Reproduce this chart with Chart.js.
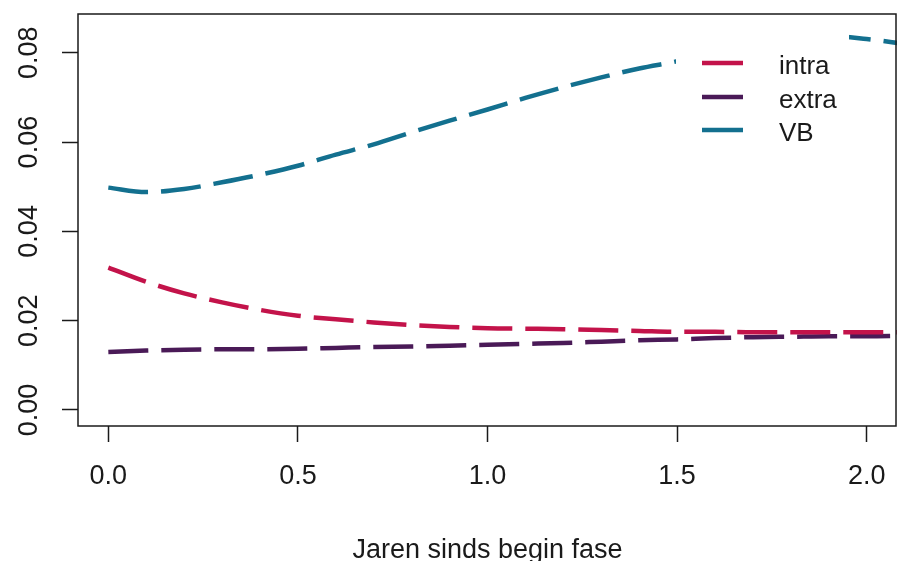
<!DOCTYPE html>
<html>
<head>
<meta charset="utf-8">
<script src="https://cdn.jsdelivr.net/npm/chart.js@4.4.1/dist/chart.umd.min.js"></script>
<style>
  body { margin: 0; background: #fff; }
  #wrap { width: 897px; height: 561px; position: relative; }
</style>
</head>
<body>
<div id="wrap"><canvas id="chartFase"></canvas></div>
<script>
// Data
const jaren = [0, 0.1, 0.2, 0.3, 0.4, 0.5, 0.6, 0.7, 0.8, 0.9, 1.0, 1.1, 1.2, 1.3, 1.4, 1.5, 1.6, 1.7, 1.8, 1.9, 2.0, 2.1];
const intra = [0.0319, 0.0287, 0.0261, 0.0241, 0.0224, 0.0211, 0.0203, 0.0196, 0.0190, 0.0186, 0.0183, 0.0182, 0.0181, 0.0179, 0.0177, 0.0175, 0.0175, 0.0174, 0.0174, 0.0174, 0.0174, 0.0174];
const extra = [0.0130, 0.0133, 0.0135, 0.0136, 0.0136, 0.0137, 0.0139, 0.0141, 0.0142, 0.0144, 0.0146, 0.0148, 0.0150, 0.0153, 0.0156, 0.0158, 0.0161, 0.0163, 0.0164, 0.0165, 0.0165, 0.0166];
const vb    = [0.0498, 0.0488, 0.0495, 0.0510, 0.0527, 0.0547, 0.0572, 0.0595, 0.0622, 0.0648, 0.0673, 0.0699, 0.0723, 0.0745, 0.0765, 0.0781, 0.0800, 0.0818, 0.0831, 0.0838, 0.0831, 0.0820];
const xTicks = [0, 0.5, 1.0, 1.5, 2.0];
const yTicks = [0, 0.02, 0.04, 0.06, 0.08];
const xTitel = 'Jaren sinds begin fase';

const FONT = "'Liberation Sans', Arial, sans-serif";
const INK = '#1a1a1a';
const pts = arr => arr.map((v, i) => ({ x: jaren[i], y: v }));

// R-achtige kader, y-labels en legenda
const rFrame = {
  id: 'rFrame',
  afterDatasetsDraw(chart) {
    const ctx = chart.ctx;
    ctx.save();
    ctx.fillStyle = '#fff';
    ctx.fillRect(676, 20, 173, 132);
    const rows = [63, 97, 130];
    chart.data.datasets.forEach((ds, i) => {
      ctx.strokeStyle = ds.borderColor; ctx.lineWidth = 4.5; ctx.setLineDash([]);
      ctx.beginPath(); ctx.moveTo(702, rows[i]); ctx.lineTo(743, rows[i]); ctx.stroke();
      ctx.fillStyle = INK; ctx.font = '26px ' + FONT; ctx.textAlign = 'left'; ctx.textBaseline = 'middle';
      ctx.fillText(ds.label, 779, rows[i] + 4);
    });
    ctx.restore();
  },
  afterDraw(chart) {
    const { ctx, chartArea: a, scales: { y } } = chart;
    ctx.save();
    ctx.strokeStyle = INK; ctx.lineWidth = 1.5;
    ctx.strokeRect(a.left, a.top, a.right - a.left - 1, a.bottom - a.top);
    ctx.fillStyle = INK; ctx.font = '27px ' + FONT; ctx.textAlign = 'center'; ctx.textBaseline = 'middle';
    y.ticks.forEach(t => {
      ctx.save();
      ctx.translate(30, y.getPixelForValue(t.value));
      ctx.rotate(-Math.PI / 2);
      ctx.fillText(t.value.toFixed(2), 0, 0);
      ctx.restore();
    });
    ctx.restore();
  }
};

new Chart(document.getElementById('chartFase'), {
  type: 'line',
  data: { datasets: [
    { label: 'intra', data: pts(intra), borderColor: '#c3134a' },
    { label: 'extra', data: pts(extra), borderColor: '#4a1a57' },
    { label: 'VB', data: pts(vb), borderColor: '#13708f' }
  ] },
  options: {
    responsive: true, maintainAspectRatio: false, animation: false,
    layout: { padding: { top: 14, right: 0, bottom: 0, left: 0 } },
    elements: {
      point: { radius: 0 },
      line: { borderWidth: 4.5, borderDash: [40, 13], borderCapStyle: 'butt', cubicInterpolationMode: 'monotone', fill: false }
    },
    plugins: { legend: { display: false }, tooltip: { enabled: false } },
    scales: {
      x: {
        type: 'linear', min: -0.08, max: 2.08,
        afterBuildTicks: s => { s.ticks = xTicks.map(v => ({ value: v })); },
        afterFit: s => { s.height = 135; s.paddingLeft = 0; s.paddingRight = 0; },
        border: { display: false },
        grid: { drawOnChartArea: false, tickLength: 16, tickColor: INK, tickWidth: 1.5 },
        ticks: { padding: 18, color: INK, font: { family: FONT, size: 27 }, maxRotation: 0, callback: v => v.toFixed(1) },
        title: { display: true, text: xTitel, color: INK, font: { family: FONT, size: 27, lineHeight: 0.8 }, padding: 0 }
      },
      y: {
        type: 'linear', min: -0.0036, max: 0.0887,
        afterBuildTicks: s => { s.ticks = yTicks.map(v => ({ value: v })); },
        afterFit: s => { s.width = 78; s.paddingTop = 0; s.paddingBottom = 0; },
        border: { display: false },
        grid: { drawOnChartArea: false, tickLength: 16, tickColor: INK, tickWidth: 1.5 },
        ticks: { display: false }
      }
    }
  },
  plugins: [rFrame]
});
</script>
</body>
</html>
